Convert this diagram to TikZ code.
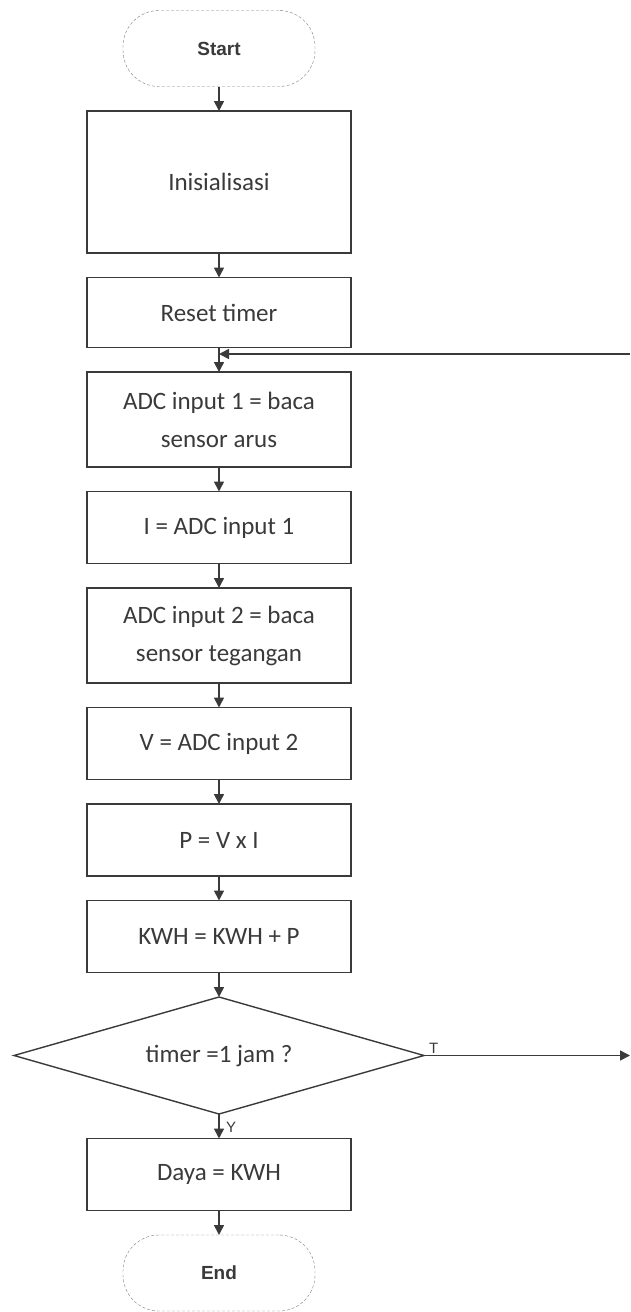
\documentclass[tikz,border=0pt]{standalone}
\usepackage{fontspec}
\setmainfont{Carlito}
\newfontfamily\termfont{Liberation Sans}
\usepackage{tikz}
\usetikzlibrary{positioning, arrows.meta, shapes.geometric, calc}
\definecolor{ink}{HTML}{3A3A3A}

\begin{document}
\begin{tikzpicture}[
    terminal/.style = {rectangle, rounded corners=36pt, draw=gray, densely dashed, thin, outer sep=0pt, minimum width=192pt, minimum height=76pt, text=ink, font=\termfont\bfseries\fontsize{19}{24}\selectfont},
    process/.style  = {rectangle, draw=ink, line width=1.6pt, outer sep=0pt, minimum width=264pt, minimum height=72pt, text=ink, align=center, font=\fontsize{25}{38}\selectfont},
    decision/.style = {diamond, aspect=3.5, draw=ink, line width=1.4pt, outer sep=0pt, minimum width=410pt, minimum height=117pt, inner sep=0pt, text=ink, font=\fontsize{25}{30}\selectfont},
    lbl/.style      = {text=ink, inner sep=1pt, font=\termfont\fontsize{15}{18}\selectfont},
    arrow/.style    = {-{Triangle[length=10pt, width=10pt]}, line width=1.6pt, draw=ink},
    node distance   = 24.5pt
]
\useasboundingbox (0,0) rectangle (630pt,-1312pt);
\node[terminal]                     (start) at (219pt,-48.5pt) {Start};
\node[process, below=of start, minimum height=142pt, line width=2.4pt] (init) {Inisialisasi};
\node[process, below=of init, minimum height=70pt] (reset) {Reset timer};
\node[process, below=of reset, minimum height=95pt] (adc1) {ADC input 1 = baca\\sensor arus};
\node[process, below=of adc1]       (arus)  {I = ADC input 1};
\node[process, below=of arus, minimum height=95pt] (adc2) {ADC input 2 = baca\\sensor tegangan};
\node[process, below=of adc2]       (volt)  {V = ADC input 2};
\node[process, below=of volt]       (daya)  {P = V x I};
\node[process, below=of daya]       (kwh)   {KWH = KWH + P};
\node[decision, below=of kwh]       (cond)  {timer =1 jam ?};
\node[process, below=of cond]       (hasil) {Daya = KWH};
\node[terminal, below=of hasil]     (end)   {End};
\foreach \a/\b in {start/init, init/reset, reset/adc1, adc1/arus, arus/adc2, adc2/volt, volt/daya, daya/kwh, kwh/cond, cond/hasil, hasil/end}
  \draw[arrow] (\a) -- (\b);
% loop back from T branch
\coordinate (join)  at ($(adc1.north)+(0,18pt)$);
\coordinate (loopR) at ($(join)+(411pt,0)$);
\coordinate (condR) at (cond.east -| loopR);
\draw[arrow] (cond.east) -- (condR);
\draw[arrow] (loopR) -- (join);
\node[lbl, anchor=south west] (tlbl) at ($(cond.east)+(4pt,1pt)$) {T};
\node[lbl, anchor=west] (ylbl) at ($(cond.south)+(6pt,-13pt)$) {Y};
\end{tikzpicture}
\end{document}
